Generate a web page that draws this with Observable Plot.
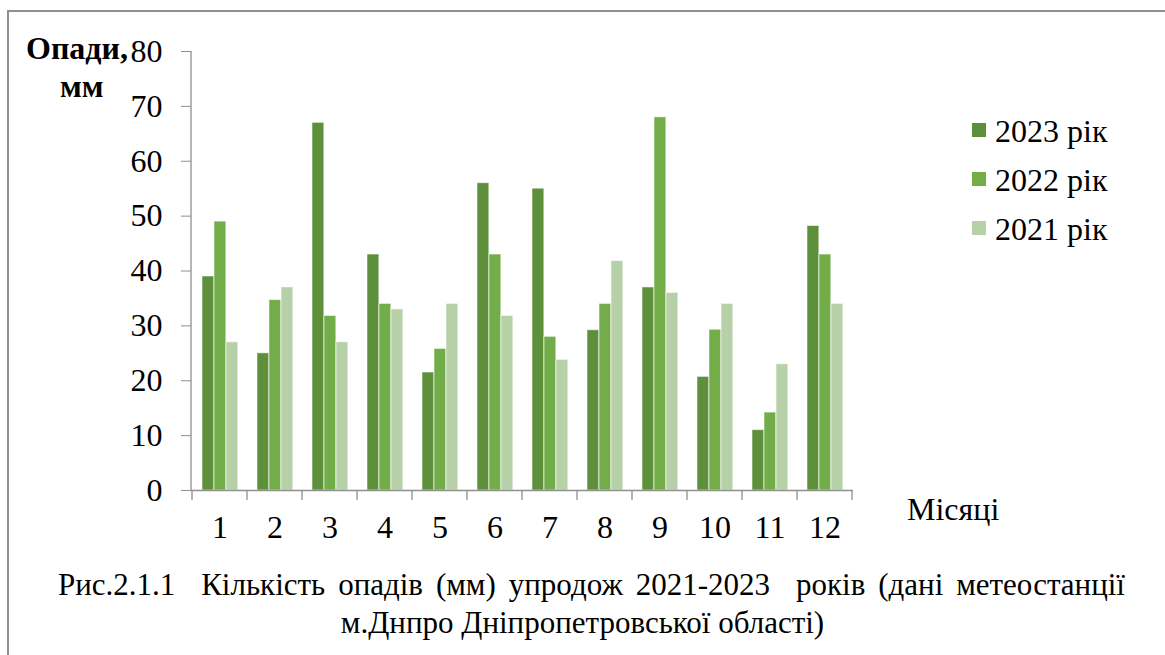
<!DOCTYPE html>
<html><head><meta charset="utf-8">
<script src="https://cdn.jsdelivr.net/npm/d3@7"></script>
<script src="https://cdn.jsdelivr.net/npm/@observablehq/plot@0.6"></script>
<style>
html,body{margin:0;padding:0;background:#fff;}
#wrap{position:relative;width:1165px;height:655px;overflow:hidden;font-family:"Liberation Serif","Times New Roman",Times,serif;color:#000;}
#frame{position:absolute;left:7px;top:10px;width:1200px;height:700px;border-left:2px solid #8f8f8f;border-top:2px solid #8f8f8f;}
#chart{position:absolute;left:0;top:0;}
#chart svg g[aria-label="y-axis tick"]{stroke:#8f8f8f;}
.t{position:absolute;white-space:pre;line-height:1;}
#ytitle .t{font-weight:bold;font-size:32px;}
.li{position:absolute;}
.sw{position:absolute;width:14px;height:14px;}
.lt{position:absolute;font-size:32px;line-height:1;white-space:pre;}
#xtitle{left:907px;top:493px;font-size:32px;}
#cap1{left:58px;top:569px;font-size:31px;}
#cap2{left:0;top:607px;width:1165px;text-align:center;font-size:31px;}
</style>
</head><body>
<div id="wrap">
  <div id="frame"></div>
  <div id="chart"></div>
  <div id="ytitle"><div class="t" style="left:26px;top:32px">Опади,</div><div class="t" style="left:60px;top:70px">мм</div></div>
  <div id="legend"></div>
  <div id="xtitle" class="t">Місяці</div>
  <div id="cap1" class="t"></div>
  <div id="cap2" class="t"></div>
</div>
<script>
const months = ["1","2","3","4","5","6","7","8","9","10","11","12"];
const series = ["2023 рік","2022 рік","2021 рік"];
const seriesColors = ["#5e8f3a","#72ad4a","#b6d0a7"];
const v2023 = [39, 25, 67, 43, 21.5, 56, 55, 29.2, 37, 20.7, 11, 48.2];
const v2022 = [49, 34.7, 31.8, 34, 25.8, 43, 28, 34, 68, 29.3, 14.2, 43];
const v2021 = [27, 37, 27, 33, 34, 31.8, 23.8, 41.8, 36, 34, 23, 34];
const yTicks = [0, 10, 20, 30, 40, 50, 60, 70, 80];
const caption1 = "Рис.2.1.1  Кількість опадів (мм) упродож 2021-2023  років (дані метеостанції";
const caption2 = "м.Днпро Дніпропетровської області)";

const valuesBySeries = [v2023, v2022, v2021];
const table = [];
series.forEach((s, i) => months.forEach((m, j) => table.push({month: m, series: s, value: valuesBySeries[i][j]})));

const W = 1165, H = 560, ML = 191, MR = 312, MT = 51, MB = 70;
const step = (W - ML - MR) / months.length;
const barW = 12, lead = 10;
const FONT = '"Liberation Serif","Times New Roman",Times,serif';

function axisLines(index, scales, values, dimensions) {
  const x = scales.x;
  const bw = x.bandwidth ? x.bandwidth() : step;
  const y0 = dimensions.height - dimensions.marginBottom;
  const g = d3.create("svg:g").attr("stroke", "#8f8f8f").attr("stroke-width", 1.3);
  const edges = months.map(m => x(m)).concat([x(months[months.length - 1]) + bw]);
  g.selectAll("line.t").data(edges).join("line").attr("class","t")
    .attr("x1", d => d).attr("x2", d => d).attr("y1", y0).attr("y2", y0 + 10);
  g.append("line").attr("x1", dimensions.marginLeft).attr("x2", dimensions.marginLeft)
    .attr("y1", dimensions.marginTop).attr("y2", y0);
  return g.node();
}

const chart = Plot.plot({
  width: W, height: H, marginLeft: ML, marginRight: MR, marginTop: MT, marginBottom: MB,
  style: {fontFamily: FONT, fontSize: "32px", background: "transparent", color: "#000", overflow: "visible"},
  x: {type: "band", domain: months, padding: 0, label: null, tickSize: 0, tickPadding: 25},
  y: {domain: [0, 80], ticks: yTicks, tickSize: 10, tickPadding: 19, label: null},
  color: {domain: series, range: seriesColors},
  marks: [
    ...series.map((s, i) => Plot.barY(table.filter(d => d.series === s), {
      x: "month", y: "value", fill: "series",
      insetLeft: lead + barW * i, insetRight: step - (lead + barW * (i + 1)),
      stroke: "#ffffff", strokeOpacity: 0.55, strokeWidth: 1
    })),
    Plot.ruleY([0], {stroke: "#8f8f8f", strokeWidth: 1.3}),
    axisLines
  ]
});
document.getElementById("chart").appendChild(chart);

const legend = document.getElementById("legend");
series.forEach((s, i) => {
  const base = 142 + i * 49;
  const sw = document.createElement("div");
  sw.className = "sw"; sw.style.background = seriesColors[i];
  sw.style.left = "972px"; sw.style.top = (base - 19) + "px";
  const t = document.createElement("div");
  t.className = "lt"; t.textContent = s;
  t.style.left = "995px"; t.style.top = (base - 27) + "px";
  legend.appendChild(sw); legend.appendChild(t);
});
const c1 = document.getElementById("cap1");
c1.textContent = caption1;
const natural = c1.getBoundingClientRect().width;
const nSpaces = (caption1.match(/ /g) || []).length;
c1.style.wordSpacing = ((1067 - natural) / nSpaces) + "px";
document.getElementById("cap2").textContent = caption2;
</script>
</body></html>
